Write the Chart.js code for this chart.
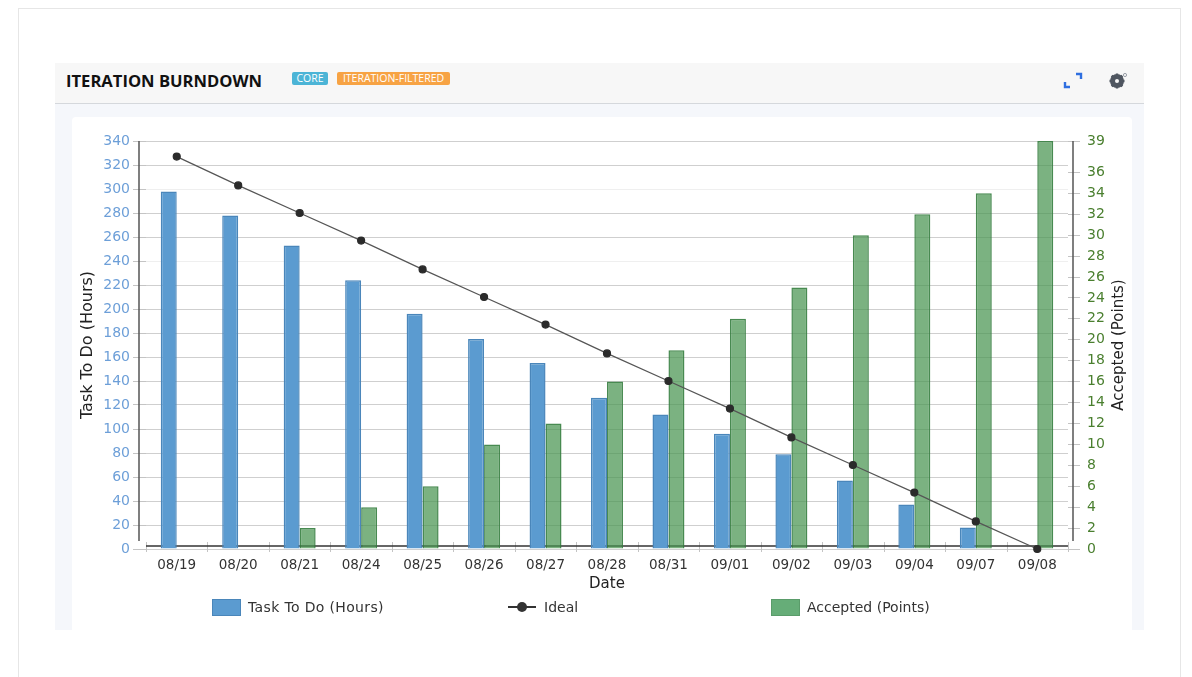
<!DOCTYPE html>
<html lang="en">
<head>
    <meta charset="UTF-8">
    <title>Iteration Burndown</title>
    <script src="https://cdn.jsdelivr.net/npm/chart.js@4"></script>
    <style>
        html, body { margin: 0; padding: 0; background: #fff; overflow: hidden; }
        body { width: 1192px; height: 677px; position: relative; font-family: "DejaVu Sans", sans-serif; }
        .frame { position: absolute; left: 18px; top: 8px; width: 1163px; height: 680px; border: 1px solid #e6e6e6; box-sizing: border-box; }
        .panel { position: absolute; left: 55px; top: 63px; width: 1089px; height: 567px; background: #f5f7fb; }
        .panel-head { position: absolute; left: 55px; top: 63px; width: 1089px; height: 41px; background: #f7f7f7; border-bottom: 1px solid #d5d8dc; box-sizing: border-box; }
        .panel-body { position: absolute; left: 72px; top: 117px; width: 1060px; height: 513px; background: #fff; border-radius: 4px 4px 0 0; }
        .title { position: absolute; left: 66px; top: 69px; font: bold 16.6px "Open Sans", sans-serif; color: #111; white-space: nowrap; }
        .tag { position: absolute; top: 72px; height: 13px; border-radius: 2px; color: #fff; font: 10.5px/13px "Open Sans", sans-serif; text-align: center; white-space: nowrap; }
        .tag-core { left: 292px; width: 36px; background: #4cb4d6; }
        .tag-filter { left: 337px; width: 113px; background: #f7a344; }
        canvas { position: absolute; left: 0; top: 0; }
        .legend-text { position: absolute; top: 599px; font: 14px "DejaVu Sans", sans-serif; color: #333; white-space: nowrap; }
        .legend-box { position: absolute; top: 599px; width: 29px; height: 17px; box-sizing: border-box; border: 1px solid; }
        .legend-line { position: absolute; left: 508px; top: 606px; width: 28px; height: 2px; background: #333; }
        .legend-dot { position: absolute; left: 517px; top: 602px; width: 10px; height: 10px; border-radius: 50%; background: #333; }
        svg { position: absolute; }
    </style>
</head>
<body>
    <div class="frame"></div>
    <div class="panel"></div>
    <div class="panel-head"></div>
    <div class="panel-body"></div>
    <div class="title">ITERATION BURNDOWN</div>
    <div class="tag tag-core">CORE</div>
    <div class="tag tag-filter">ITERATION-FILTERED</div>

    <!-- expand and settings icons -->
    <svg style="left:1060px;top:70px" width="24" height="20" viewBox="0 0 24 20">
        <path d="M5 12v5h5M16 4h5v5" fill="none" stroke="#2f6fe0" stroke-width="2.4"/>
    </svg>
    <svg style="left:1107px;top:71px" width="22" height="20" viewBox="0 0 22 20">
        <circle cx="10" cy="10" r="5" fill="none" stroke="#4f5660" stroke-width="4"/>
        <path d="M10 2.5v15M2.5 10h15M4.7 4.7l10.6 10.6M15.3 4.7L4.7 15.3" stroke="#4f5660" stroke-width="2.4"/>
        <circle cx="10" cy="10" r="2" fill="#f7f7f7"/>
        <circle cx="18" cy="4" r="1.6" fill="none" stroke="#9aa0a8"/>
    </svg>

    <canvas id="burndown" width="1192" height="677"></canvas>

    <div class="legend-box" style="left:212px;background:#5b9bd0;border-color:#4a86ba"></div>
    <div class="legend-text" style="left:248px;letter-spacing:0.35px" id="legend-task"></div>
    <div class="legend-line"></div>
    <div class="legend-dot"></div>
    <div class="legend-text" style="left:544px" id="legend-ideal"></div>
    <div class="legend-box" style="left:771px;background:#66ad78;border-color:#5a9c6a"></div>
    <div class="legend-text" style="left:807px" id="legend-accepted"></div>

    <script>
        var dates = ['08/19','08/20','08/21','08/24','08/25','08/26','08/27','08/28','08/31','09/01','09/02','09/03','09/04','09/07','09/08'];
        var taskToDo = [298, 278, 253, 224, 196, 175, 155, 126, 112, 96, 79, 57, 37, 18, null];
        var ideal = [327, 303, 280, 257, 233, 210, 187, 163, 140, 117, 93, 70, 47, 23, 0];
        var accepted = [null, null, 2, 4, 6, 10, 12, 16, 19, 22, 25, 30, 32, 34, 39];
        var hourTicks = [0,20,40,60,80,100,120,140,160,180,200,220,240,260,280,300,320,340];
        var pointTicks = [0,2,4,6,8,10,12,14,16,18,20,22,24,26,28,30,32,34,36,39];
        var fadedGridlines = [240, 300];

        document.getElementById('legend-task').textContent = 'Task To Do (Hours)';
        document.getElementById('legend-ideal').textContent = 'Ideal';
        document.getElementById('legend-accepted').textContent = 'Accepted (Points)';

        // axis lines sit a few px off the plot, so they are drawn by hand from the scales
        var axisLines = {
            id: 'axisLines',
            beforeDatasetsDraw: function(chart) {
                var c = chart.ctx, x = chart.scales.x, y = chart.scales.y;
                var bottom = y.getPixelForValue(0);
                var top = y.getPixelForValue(340);
                c.save();
                c.lineWidth = 1.5;
                c.strokeStyle = '#555';
                c.beginPath();
                c.moveTo(139, top); c.lineTo(139, bottom - 8);
                c.moveTo(1073, top); c.lineTo(1073, bottom - 8);
                c.stroke();
                c.lineWidth = 1;
                c.strokeStyle = '#c4c4c4';
                c.beginPath();
                var step = (x.right - x.left) / dates.length;
                for (var i = 0; i <= dates.length; i++) {
                    var px = Math.round(x.left + step * i) + 0.5;
                    c.moveTo(px, bottom - 7); c.lineTo(px, bottom + 3);
                }
                c.stroke();
                // baseline goes under the bars, it shows through the green ones only
                c.lineWidth = 1.5;
                c.strokeStyle = '#333';
                c.beginPath();
                c.moveTo(x.left, bottom - 3); c.lineTo(x.right, bottom - 3);
                c.stroke();

                // right axis title reads bottom to top, which the library's title option won't do
                c.translate(1119, (top + bottom) / 2);
                c.rotate(-Math.PI / 2);
                c.fillStyle = '#222';
                c.font = '15px "DejaVu Sans"';
                c.textAlign = 'center';
                c.textBaseline = 'middle';
                c.fillText('Accepted (Points)', 0, 0);
                c.restore();
            }
        };

        new Chart(document.getElementById('burndown').getContext('2d'), {
            data: {
                labels: dates,
                datasets: [
                    { type: 'line', label: 'Ideal', data: ideal, yAxisID: 'y', order: 0, clip: false,
                      borderColor: '#555', borderWidth: 1.2, tension: 0,
                      pointRadius: 3.5, pointBackgroundColor: '#2b2b2b', pointBorderColor: '#2b2b2b' },
                    { type: 'bar', label: 'Task To Do (Hours)', data: taskToDo, yAxisID: 'y', order: 1,
                      backgroundColor: '#5b9bd0', borderColor: '#4a86ba', borderWidth: 1.5,
                      categoryPercentage: 0.52, barPercentage: 1 },
                    { type: 'bar', label: 'Accepted (Points)', data: accepted, yAxisID: 'y1', order: 1,
                      backgroundColor: 'rgba(72,148,80,0.72)', borderColor: 'rgba(52,125,62,0.9)', borderWidth: 1.5,
                      categoryPercentage: 0.52, barPercentage: 1 }
                ]
            },
            plugins: [axisLines],
            options: {
                responsive: false,
                animation: false,
                layout: { padding: { left: 78, right: 60, top: 141, bottom: 84 } },
                plugins: { legend: { display: false }, tooltip: { enabled: false } },
                scales: {
                    x: {
                        offset: true,
                        grid: { display: false },
                        border: { display: false },
                        ticks: { color: '#333', font: { family: 'DejaVu Sans', size: 13.5 }, maxRotation: 0, autoSkip: false, padding: 0 },
                        title: { display: true, text: 'Date', color: '#222', font: { family: 'DejaVu Sans', size: 15 }, padding: 0 },
                        afterFit: function(s) { s.height = 44; }
                    },
                    y: {
                        position: 'left', min: 0, max: 340,
                        afterBuildTicks: function(s) { s.ticks = hourTicks.map(function(v) { return { value: v }; }); },
                        grid: {
                            color: function(ctx) { return fadedGridlines.indexOf(ctx.tick.value) >= 0 ? '#efefef' : '#cfcfcf'; },
                            tickColor: '#c4c4c4', tickLength: 13
                        },
                        border: { display: false },
                        ticks: { color: '#6d9fd8', font: { family: 'DejaVu Sans', size: 14 }, padding: 3, autoSkip: false },
                        title: { display: true, text: 'Task To Do (Hours)', color: '#222', font: { family: 'DejaVu Sans', size: 16 }, padding: 0 },
                        afterFit: function(s) { s.width = 68; }
                    },
                    y1: {
                        position: 'right', min: 0, max: 39,
                        afterBuildTicks: function(s) { s.ticks = pointTicks.map(function(v) { return { value: v }; }); },
                        grid: { drawOnChartArea: false, tickColor: '#c4c4c4', tickLength: 12 },
                        border: { display: false },
                        ticks: { color: '#4a7f2f', font: { family: 'DejaVu Sans', size: 14 }, padding: 7, autoSkip: false },
                        title: { display: false },
                        afterFit: function(s) { s.width = 64; }
                    }
                }
            }
        });
    </script>
</body>
</html>
